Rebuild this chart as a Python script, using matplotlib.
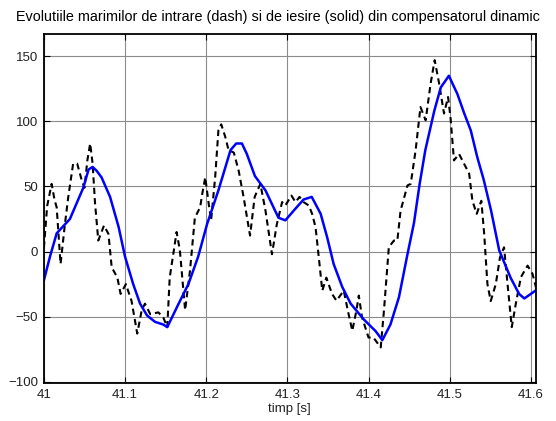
import numpy as np
import matplotlib
matplotlib.use('Agg')
from matplotlib import pyplot as plt

# semnal de intrare (dash) in compensatorul dinamic
t_in = [41.000, 41.004, 41.0095, 41.013, 41.0157, 41.0205, 41.0255, 41.030,
        41.036, 41.041, 41.0465, 41.050, 41.0535, 41.057, 41.060, 41.063,
        41.067, 41.074, 41.0795, 41.0835, 41.0905, 41.0945, 41.101, 41.108,
        41.115, 41.1205, 41.1245, 41.131, 41.141, 41.147, 41.152, 41.155,
        41.1635, 41.1675, 41.174, 41.180, 41.186, 41.1925, 41.195, 41.1988,
        41.203, 41.206, 41.211, 41.215, 41.2185, 41.2235, 41.2275, 41.234,
        41.240, 41.246, 41.254, 41.2597, 41.2667, 41.273, 41.281, 41.287,
        41.2935, 41.2975, 41.305, 41.310, 41.315, 41.320, 41.3263, 41.3305,
        41.3347, 41.3387, 41.343, 41.348, 41.355, 41.3605, 41.3695, 41.3745,
        41.380, 41.385, 41.388, 41.392, 41.400, 41.406, 41.415, 41.419,
        41.425, 41.4313, 41.4355, 41.4395, 41.448, 41.452, 41.458, 41.464,
        41.4704, 41.4765, 41.4815, 41.487, 41.493, 41.498, 41.501, 41.5053,
        41.5115, 41.5177, 41.524, 41.528, 41.5333, 41.539, 41.5425, 41.5465,
        41.5506, 41.5568, 41.562, 41.567, 41.5713, 41.5765, 41.5815, 41.5877,
        41.596, 41.602, 41.6074]
y_in = [3, 35, 52, 40, 34, -9.5, 19, 42,
        67.5, 67.5, 55, 49, 70, 83, 67.5, 37,
        8.5, 20, 13.6, -12, -20, -32.5, -25, -38,
        -63, -45, -40, -48, -46.7, -50.5, -58, -20,
        15, 1, -45, -14.6, 26, 34, 44, 57,
        37, 24, 57, 93, 97.7, 88, 78, 76,
        62, 42, 12.3, 42, 52, 31.5, -2, 21,
        38, 35.4, 43, 38, 42, 38, 35.4, 29,
        18.7, -4.4, -30, -20, -32.5, -37.7, -30, -45.4,
        -60.8, -45.4, -33.8, -50.5, -66, -66, -73.6, -45.4,
        3.3, 8.5, 8.5, 31.5, 50.8, 52, 77.7, 111,
        100.8, 129, 147, 129, 106, 118.7, 103, 70,
        75, 67.5, 59.8, 39, 29, 39, 13.6, -25,
        -38, -25, -4.4, 3.3, -25, -58, -40, -19.7,
        -10.8, -17, -30]

# semnal de iesire (solid)
t_out = [41.000, 41.0074, 41.0157, 41.032, 41.0485, 41.055, 41.060, 41.065,
         41.071, 41.0815, 41.092, 41.100, 41.110, 41.1185, 41.127, 41.137,
         41.147, 41.152, 41.166, 41.178, 41.190, 41.201, 41.215, 41.230,
         41.237, 41.244, 41.250, 41.260, 41.273, 41.289, 41.2975, 41.310,
         41.320, 41.330, 41.341, 41.349, 41.357, 41.3675, 41.378, 41.394,
         41.4086, 41.417, 41.427, 41.4375, 41.448, 41.456, 41.463, 41.470,
         41.481, 41.489, 41.499, 41.5095, 41.518, 41.526, 41.534, 41.542,
         41.551, 41.561, 41.575, 41.5855, 41.592, 41.600, 41.608]
y_out = [-22, -4, 14, 25, 49, 63, 65, 62,
         57, 42, 19, -4, -25, -40, -49, -54,
         -56, -58, -40, -25, -4, 21, 47, 78,
         83, 83, 75, 58, 47, 26, 24, 33,
         40, 42, 29, 11, -9.5, -27, -40, -52,
         -61, -68, -56, -35, -2, 22, 52, 78,
         108, 126, 135, 121, 106, 93, 72.5, 55,
         31.5, 1, -20, -32.5, -36, -32.5, -29]

xticks = [41, 41.1, 41.2, 41.3, 41.4, 41.5, 41.6]
xtick_labels = ['41', '41.1', '41.2', '41.3', '41.4', '41.5', '41.6']
yticks = [-100, -50, 0, 50, 100, 150]

plt.rcParams['font.family'] = ['Liberation Sans', 'DejaVu Sans']

f = plt.figure(figsize=(5.56, 4.21), dpi=100)
ax = f.add_axes([0.079, 0.090, 0.8845, 0.829])

ax.plot(t_in, y_in, '--', color='black', lw=1.5, dashes=(3, 2))
ax.plot(t_out, y_out, '-', color='#0000ff', lw=1.8)

ax.set_xlim(41, 41.606)
ax.set_ylim(-101, 167)
ax.set_xticks(xticks)
ax.set_xticklabels(xtick_labels)
ax.set_yticks(yticks)
ax.grid(True, color='#8c8c8c', lw=0.8)
ax.tick_params(direction='in', top=True, right=True, length=4,
               labelsize=9.5, pad=4, labelcolor='#222222')
for s in ax.spines.values():
    s.set_linewidth(1.3)

ax.set_xlabel('timp [s]', fontsize=9.5, labelpad=2, color='#222222')
f.text(277.5 / 556, 1 - 17 / 421,
       'Evolutiile marimilor de intrare (dash) si de iesire (solid) din compensatorul dinamic',
       ha='center', va='center', fontsize=10.4)

plt.savefig('out.png', dpi=100)
